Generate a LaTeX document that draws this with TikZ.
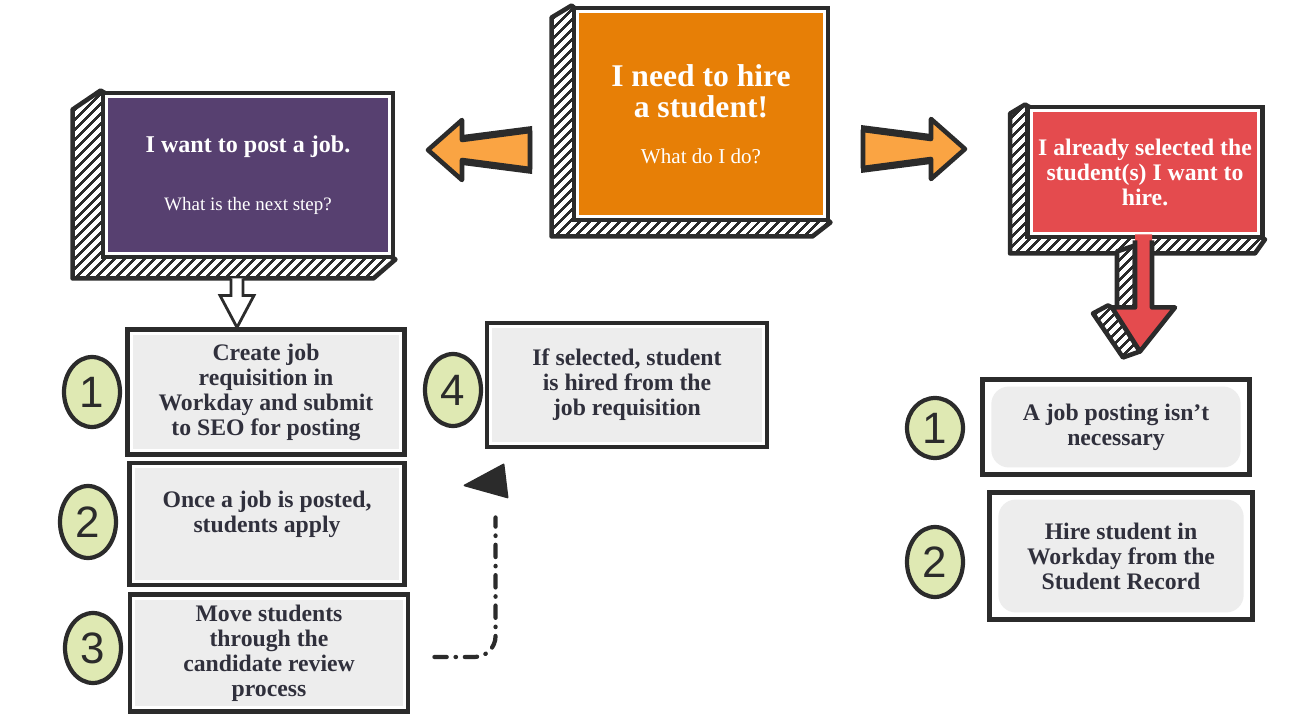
\documentclass[tikz,border=0pt]{standalone}
\usepackage{fontspec}
\setmainfont{Liberation Serif}
\newfontfamily\numfont{Liberation Sans}
\usepackage{tikz}
\usetikzlibrary{positioning,calc,backgrounds,shapes.geometric,patterns.meta}

\definecolor{ink}{HTML}{2B2B2B}
\definecolor{txtdark}{HTML}{30303C}
\definecolor{hireorange}{HTML}{E77F06}
\definecolor{postpurple}{HTML}{574070}
\definecolor{selred}{HTML}{E44B4E}
\definecolor{arroworange}{HTML}{FAA443}
\definecolor{stepgray}{HTML}{EDEDED}
\definecolor{numgreen}{HTML}{DFE9B3}

\newcommand{\stepfont}{\fontsize{13.5}{14.2}\selectfont\bfseries}

\tikzset{
  inset/.style={path picture={\fill[#1] ([shift={(3pt,3pt)}]path picture bounding box.south west)
      rectangle ([shift={(-3pt,-3pt)}]path picture bounding box.north east);}},
  roundinset/.style={path picture={\fill[#1,rounded corners=10pt] ([shift={(5pt,4pt)}]path picture bounding box.south west)
      rectangle ([shift={(-5pt,-4pt)}]path picture bounding box.north east);}},
  frontbox/.style={draw=ink, line width=2.8pt, fill=white, inner sep=0pt, align=center, text=white},
  sidehatch/.style={draw=ink, line width=2.6pt, line join=round, preaction={fill=white},
      pattern={Lines[angle=45,distance=4pt,line width=1.5pt]}, pattern color=ink},
  stepbox/.style={draw=ink, line width=2.8pt, fill=white, inner sep=0pt, align=center,
      text=txtdark, font=\stepfont, inset=stepgray},
  softbox/.style={stepbox, path picture={}, roundinset=stepgray},
  numcirc/.style={ellipse, draw=ink, line width=2.4pt, fill=numgreen, inner sep=0pt,
      font=\numfont\fontsize{25}{25}\selectfont, text=ink},
  arrowbody/.style={fill=arroworange, draw=ink, line width=2.6pt, line join=round},
  hollowbody/.style={fill=white, draw=ink, line width=1.6pt, line join=miter},
  dashlink/.style={draw=ink, line width=2.4pt, line cap=round, rounded corners=12pt,
      dash pattern=on 7pt off 5pt on 0.3pt off 5pt},
  fatarrow/.pic={
    \fill[ink] (-2,-24) -- (68,-15) -- (68,15) -- (-2,24) -- cycle;
    \filldraw[arrowbody] (0,-19) -- (68,-10) -- (68,-30) -- (102,0)
      -- (68,30) -- (68,10) -- (0,19) -- cycle;}
}

\begin{document}
\begin{tikzpicture}[x=0.02cm,y=-0.02cm]
  \useasboundingbox (0,0) rectangle (1306,723);

  % the three headline boxes
  \node[frontbox, inset=hireorange, minimum width=5.08cm, minimum height=4.24cm,
        font=\fontsize{18}{18}\selectfont\bfseries] (need) at (701,114)
        {I need to hire\\ a student!\\[8pt] {\fontsize{12}{12}\selectfont\mdseries What do I do?}};
  \node[frontbox, inset=postpurple, minimum width=5.8cm, minimum height=3.28cm,
        font=\fontsize{13.7}{16}\selectfont\bfseries] (post) at (248,175)
        {I want to post a job.\\[17pt] {\fontsize{10.8}{12}\selectfont\mdseries What is the next step?}};
  \node[frontbox, inset=selred, minimum width=4.7cm, minimum height=2.6cm, font=\stepfont] (sel) at (1145,172)
        {I already selected the\\ student(s) I want to\\ hire.};

  \begin{scope}[on background layer]
    \filldraw[sidehatch] (need.north west) -- ++(-20,12) -- ($(need.south west)+(-20,14)$)
      -- ($(need.south east)+(-18,14)$) -- (need.south east) -- cycle;
    \filldraw[sidehatch] (post.north west) -- ++(-28,19) -- ($(post.south west)+(-28,19)$)
      -- ($(post.south east)+(-22,19)$) -- (post.south east) -- cycle;
    \filldraw[sidehatch] (sel.north west) -- ++(-15,9) -- ($(sel.south west)+(-15,14)$)
      -- ($(sel.south east)+(-10,14)$) -- (sel.south east) -- cycle;
    % side of the red pointer
    \filldraw[sidehatch, shift={(sel.south)}] (-10,6) -- (-28,12) -- (-28,68) -- (-10,68) -- cycle;
    \filldraw[sidehatch, shift={(sel.south)}] (-33,68) -- (-5,112) -- (-22,118) -- (-52,74) -- (-37,66) -- cycle;
  \end{scope}

  % red pointer down to the right column
  \fill[selred, shift={(sel.south)}] (-10,-5) -- (-10,68) -- (-33,68) -- (-5,112) -- (30,68) -- (7,68) -- (7,-5) -- cycle;
  \draw[ink, line width=2.6pt, line join=round, shift={(sel.south)}]
    (-10,1) -- (-10,68) -- (-33,68) -- (-5,112) -- (30,68) -- (7,68) -- (7,1);

  % fat arrows out of the middle box
  \pic[xscale=-1] at (530,150) {fatarrow};
  \pic at (863,149) {fatarrow};

  % hollow arrow under the purple box
  \coordinate (pstem) at ($(post.south)+(-11,19)$);
  \filldraw[hollowbody, shift={(pstem)}] (-6,0) -- (-6,17) -- (-17,17) -- (0,49) -- (17,17) -- (6,17) -- (6,0);

  % steps when posting a job
  \node[stepbox, minimum width=5.54cm, minimum height=2.5cm] (s1) at (266,392)
        {Create job\\ requisition in\\ Workday and submit\\ to SEO for posting};
  \node[stepbox, minimum width=5.5cm, minimum height=2.44cm] (s2) at (267,524)
        {Once a job is posted,\\ students apply\\ \mbox{}};
  \node[stepbox, minimum width=5.56cm, minimum height=2.34cm] (s3) at (269,653)
        {Move students\\ through the\\ candidate review\\ process};
  \node[stepbox, minimum width=5.6cm, minimum height=2.48cm] (s4) at (627,385)
        {If selected, student\\ is hired from the\\ job requisition};

  \node[numcirc, minimum width=1.12cm, minimum height=1.4cm] (n1) at (92,392) {1};
  \node[numcirc, minimum width=1.12cm, minimum height=1.44cm] (n2) at (88,522) {2};
  \node[numcirc, minimum width=1.12cm, minimum height=1.4cm] (n3) at (93,648) {3};
  \node[numcirc, minimum width=1.12cm, minimum height=1.44cm] (n4) at (453,390) {4};

  % steps when the student is already chosen
  \node[softbox, minimum width=5.34cm, minimum height=1.9cm] (r1) at (1116,427)
        {A job posting isn’t\\ necessary};
  \node[softbox, minimum width=5.26cm, minimum height=2.54cm] (r2) at (1121,556)
        {Hire student in\\ Workday from the\\ Student Record};

  \node[numcirc, minimum width=1.12cm, minimum height=1.2cm] (m1) at (935,428) {1};
  \node[numcirc, minimum width=1.12cm, minimum height=1.4cm] (m2) at (935,562) {2};

  % dash-dot link from step 3 up to step 4
  \coordinate (dstart) at ($(s3.east)+(24,4)$);
  \coordinate (dend) at ($(s4.south west)+(11,68)$);
  \draw[dashlink] (dstart) -| (dend);
  \filldraw[ink, line width=1pt, line join=round] ($(dend)+(-31,-32)$) -- ($(dend)+(8,-53)$)
    -- ($(dend)+(12,-20)$) -- cycle;
\end{tikzpicture}
\end{document}
